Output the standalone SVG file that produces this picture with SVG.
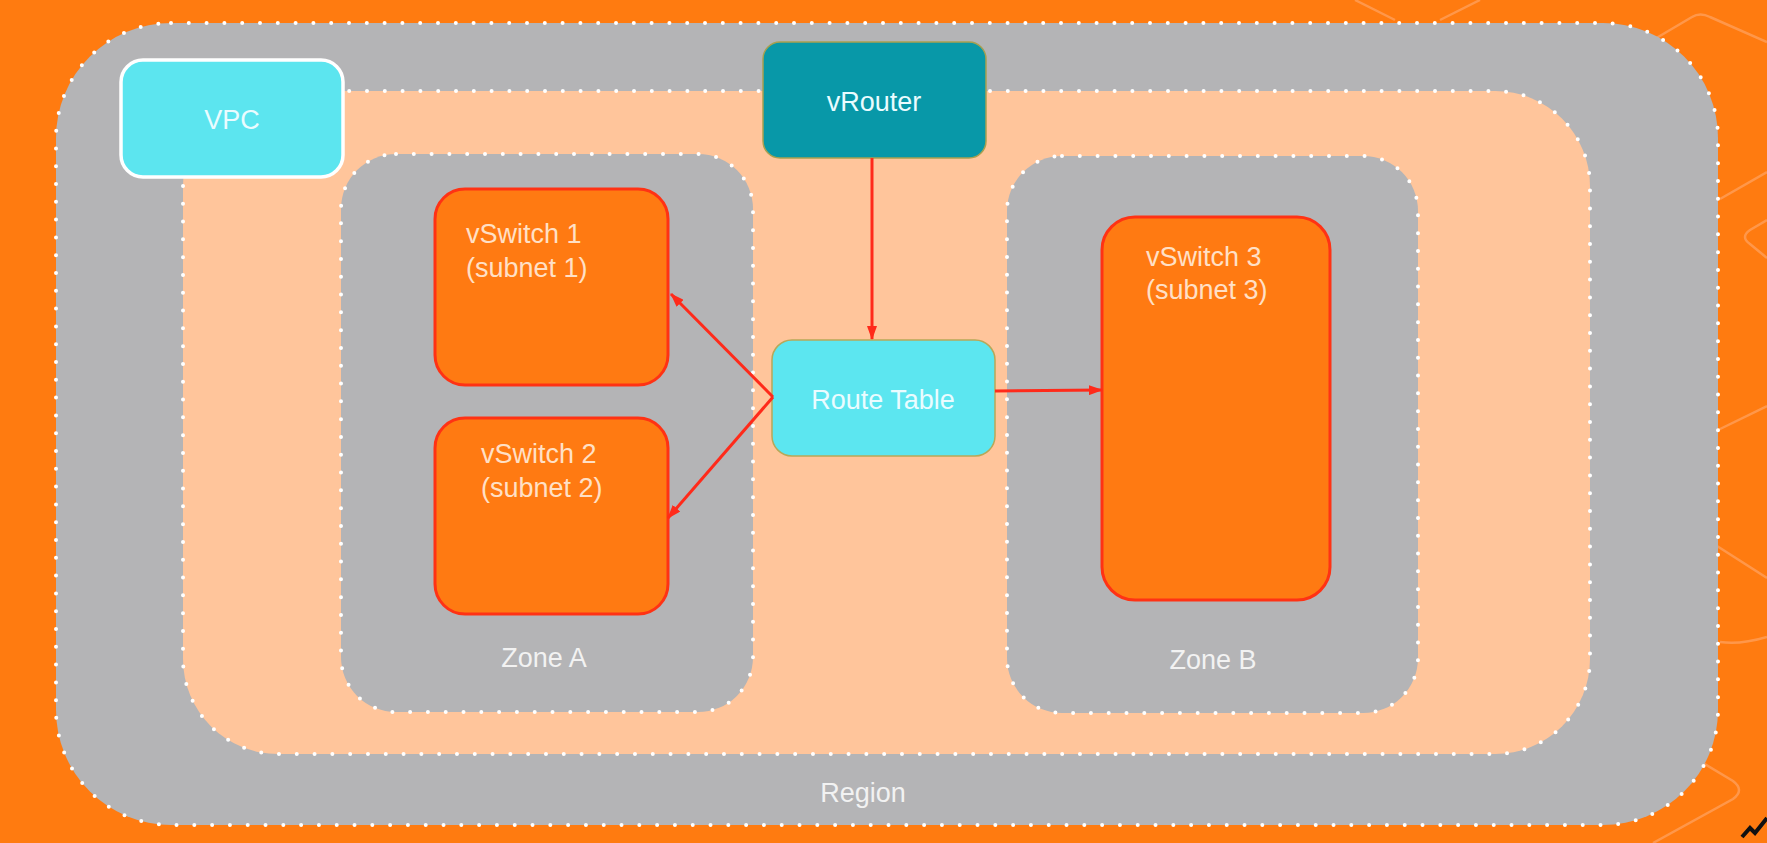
<svg xmlns="http://www.w3.org/2000/svg" width="1767" height="843" viewBox="0 0 1767 843">
<style>
.dot{stroke:#ffffff;stroke-width:4;stroke-linecap:round;stroke-dasharray:0 17.8}
.gray{fill:#b4b4b6}
.peach{fill:#ffc59b}
.sw{fill:#ff7a12;stroke:#ff3214;stroke-width:3}
.t{font-family:"Liberation Sans",Arial,Helvetica,sans-serif;font-size:27px}
.tw{fill:#f2f2f2}
.ts{fill:#ffe0c6}
.tc{fill:#eafcff}
.conn{stroke:#ff2a1a;stroke-width:3;fill:none;marker-end:url(#ah)}
.deco{stroke:#ffa464;stroke-width:2.5;fill:none;opacity:0.7}
</style>
<defs>
<marker id="ah" viewBox="0 0 14 10" refX="13" refY="5" markerWidth="14" markerHeight="10" markerUnits="userSpaceOnUse" orient="auto">
<path d="M0,0 L14,5 L0,10 Z" fill="#ff2a1a"/>
</marker>
</defs>
<rect x="0" y="0" width="1767" height="843" fill="#ff7b10"/>
<g id="background-decor">
<path class="deco" d="M1653,40 L1692,17 Q1700,12 1710,17 L1767,42"/>
<path class="deco" d="M1720,199 L1767,172"/>
<path class="deco" d="M1767,220 L1750,230 Q1740,237 1750,244 L1767,258"/>
<path class="deco" d="M1718,430 L1767,406"/>
<path class="deco" d="M1717,546 L1767,578"/>
<path class="deco" d="M1720,642 Q1740,645 1767,637"/>
<path class="deco" d="M1698,760 L1733,781 Q1745,790 1733,799 L1653,843"/>
<path class="deco" d="M1355,0 L1395,20"/>
<path class="deco" d="M1440,20 L1480,0"/>
</g>
<path d="M1742,837 L1750,828 L1755,833 L1767,818" stroke="#111" stroke-width="4" fill="none"/>

<g id="region">
<rect class="gray" x="56" y="23" width="1662" height="802" rx="115" ry="115"/>
<rect class="dot" x="56" y="23" width="1662" height="802" rx="115" ry="115" fill="none"/>
<text class="t tw" x="863" y="802" text-anchor="middle">Region</text>
</g>

<g id="vpc-area">
<rect class="peach" x="183" y="91" width="1407" height="663" rx="95" ry="95"/>
<rect class="dot" x="183" y="91" width="1407" height="663" rx="95" ry="95" fill="none"/>
</g>

<g id="zone-a">
<rect class="gray" x="341" y="154" width="412" height="558" rx="55" ry="55"/>
<rect class="dot" x="341" y="154" width="412" height="558" rx="55" ry="55" fill="none"/>
<text class="t tw" x="544" y="667" text-anchor="middle">Zone A</text>
</g>

<g id="zone-b">
<rect class="gray" x="1007" y="156" width="411" height="557" rx="55" ry="55"/>
<rect class="dot" x="1007" y="156" width="411" height="557" rx="55" ry="55" fill="none"/>
<text class="t tw" x="1213" y="669" text-anchor="middle">Zone B</text>
</g>

<g id="vpc">
<rect x="121" y="60" width="222" height="117" rx="22" ry="22" fill="#5ce5ef" stroke="#ffffff" stroke-width="3.5"/>
<text class="t tc" x="232" y="129" text-anchor="middle">VPC</text>
</g>

<g id="vrouter">
<rect x="763" y="42" width="223" height="116" rx="17" ry="17" fill="#0898a8" stroke="#a8a050" stroke-width="1.5"/>
<text class="t tc" x="874" y="111" text-anchor="middle">vRouter</text>
</g>

<g id="route-table">
<rect x="772" y="340" width="223" height="116" rx="20" ry="20" fill="#5ce6f0" stroke="#b8a858" stroke-width="1.5"/>
<text class="t tc" x="883" y="409" text-anchor="middle">Route Table</text>
</g>

<g id="vswitch1">
<rect class="sw" x="435" y="189" width="233" height="196" rx="30" ry="30"/>
<text class="t ts" x="466" y="243">vSwitch 1</text>
<text class="t ts" x="466" y="277">(subnet 1)</text>
</g>

<g id="vswitch2">
<rect class="sw" x="435" y="418" width="233" height="196" rx="30" ry="30"/>
<text class="t ts" x="481" y="463">vSwitch 2</text>
<text class="t ts" x="481" y="497">(subnet 2)</text>
</g>

<g id="vswitch3">
<rect class="sw" x="1102" y="217" width="228" height="383" rx="33" ry="33"/>
<text class="t ts" x="1146" y="266">vSwitch 3</text>
<text class="t ts" x="1146" y="299">(subnet 3)</text>
</g>

<g id="connectors">
<line class="conn" x1="872" y1="158" x2="872" y2="339"/>
<line class="conn" x1="773" y1="397" x2="671" y2="294"/>
<line class="conn" x1="773" y1="397" x2="668" y2="518"/>
<line class="conn" x1="995" y1="391" x2="1102" y2="390"/>
</g>
</svg>
